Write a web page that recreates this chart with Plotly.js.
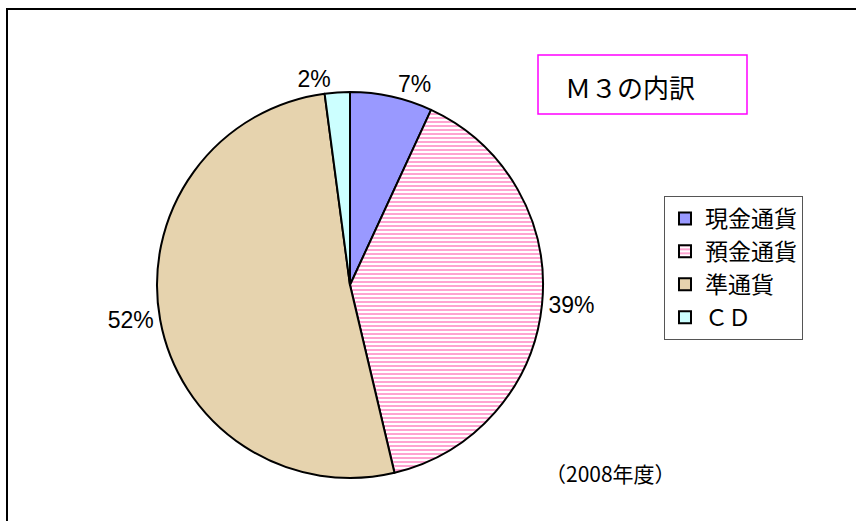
<!DOCTYPE html>
<html><head><meta charset="utf-8">
<script src="https://cdn.plot.ly/plotly-3.0.1.min.js"></script>
<style>html,body{margin:0;padding:0;background:#fff}#chart{width:856px;height:521px}</style>
</head><body><div id="chart"></div>
<script>
const categories = ['現金通貨', '預金通貨', '準通貨', 'ＣＤ'];
const shares = [6.9, 39.4, 51.6, 2.1];
const sliceColors = ['#9999FF', '#FFFFFF', '#E6D3AE', '#CCFFFF'];
const titleText = 'Ｍ３の内訳';
const yearNote = '（2008年度）';

const jp = '"Noto Sans CJK JP", sans-serif';
const num = '"Liberation Sans Narrow", "Liberation Sans", sans-serif';

const trace = {
  type: 'pie',
  labels: categories,
  values: shares,
  sort: false,
  direction: 'clockwise',
  rotation: 0,
  textinfo: 'percent',
  texttemplate: '%{percent:.0%}',
  textposition: 'outside',
  outsidetextfont: {family: num, size: 23, color: '#000', stretch: 'condensed'},
  marker: {
    colors: sliceColors,
    line: {color: '#000', width: 2},
    pattern: {shape: ['', '-', '', ''], fgcolor: '#FF99CC', bgcolor: sliceColors, size: 4, solidity: 0.45, fillmode: 'replace'}
  },
  domain: {x: [157/856, 543/856], y: [1 - 478/521, 1 - 92/521]},
  hoverinfo: 'none'
};

const layout = {
  width: 856, height: 521,
  margin: {l: 0, r: 0, t: 0, b: 0},
  paper_bgcolor: '#fff',
  showlegend: true,
  legend: {
    x: 664/856, y: 1 - 196/521, xanchor: 'left', yanchor: 'top',
    bordercolor: '#555', borderwidth: 1, bgcolor: '#fff',
    font: {family: jp, size: 23, color: '#000'}
  },
  shapes: [
    {type: 'rect', xref: 'paper', yref: 'paper', x0: 7/856, x1: 1.1, y0: -0.1, y1: 1 - 9/521, line: {color: '#000', width: 2}},
    {type: 'rect', xref: 'paper', yref: 'paper', x0: 538/856, x1: 747/856, y0: 1 - 114/521, y1: 1 - 55/521, line: {color: '#FF00FF', width: 1.5}}
  ],
  annotations: [
    {text: titleText, xref: 'paper', yref: 'paper', x: 630/856, y: 1 - 86/521, xanchor: 'center', yanchor: 'middle', showarrow: false, font: {family: jp, size: 26, color: '#000'}},
    {text: yearNote, xref: 'paper', yref: 'paper', x: 610/856, y: 1 - 473/521, xanchor: 'center', yanchor: 'middle', showarrow: false, font: {family: jp, size: 21, color: '#000'}}
  ]
};

Plotly.newPlot('chart', [trace], layout, {displayModeBar: false, staticPlot: true});
</script></body></html>
